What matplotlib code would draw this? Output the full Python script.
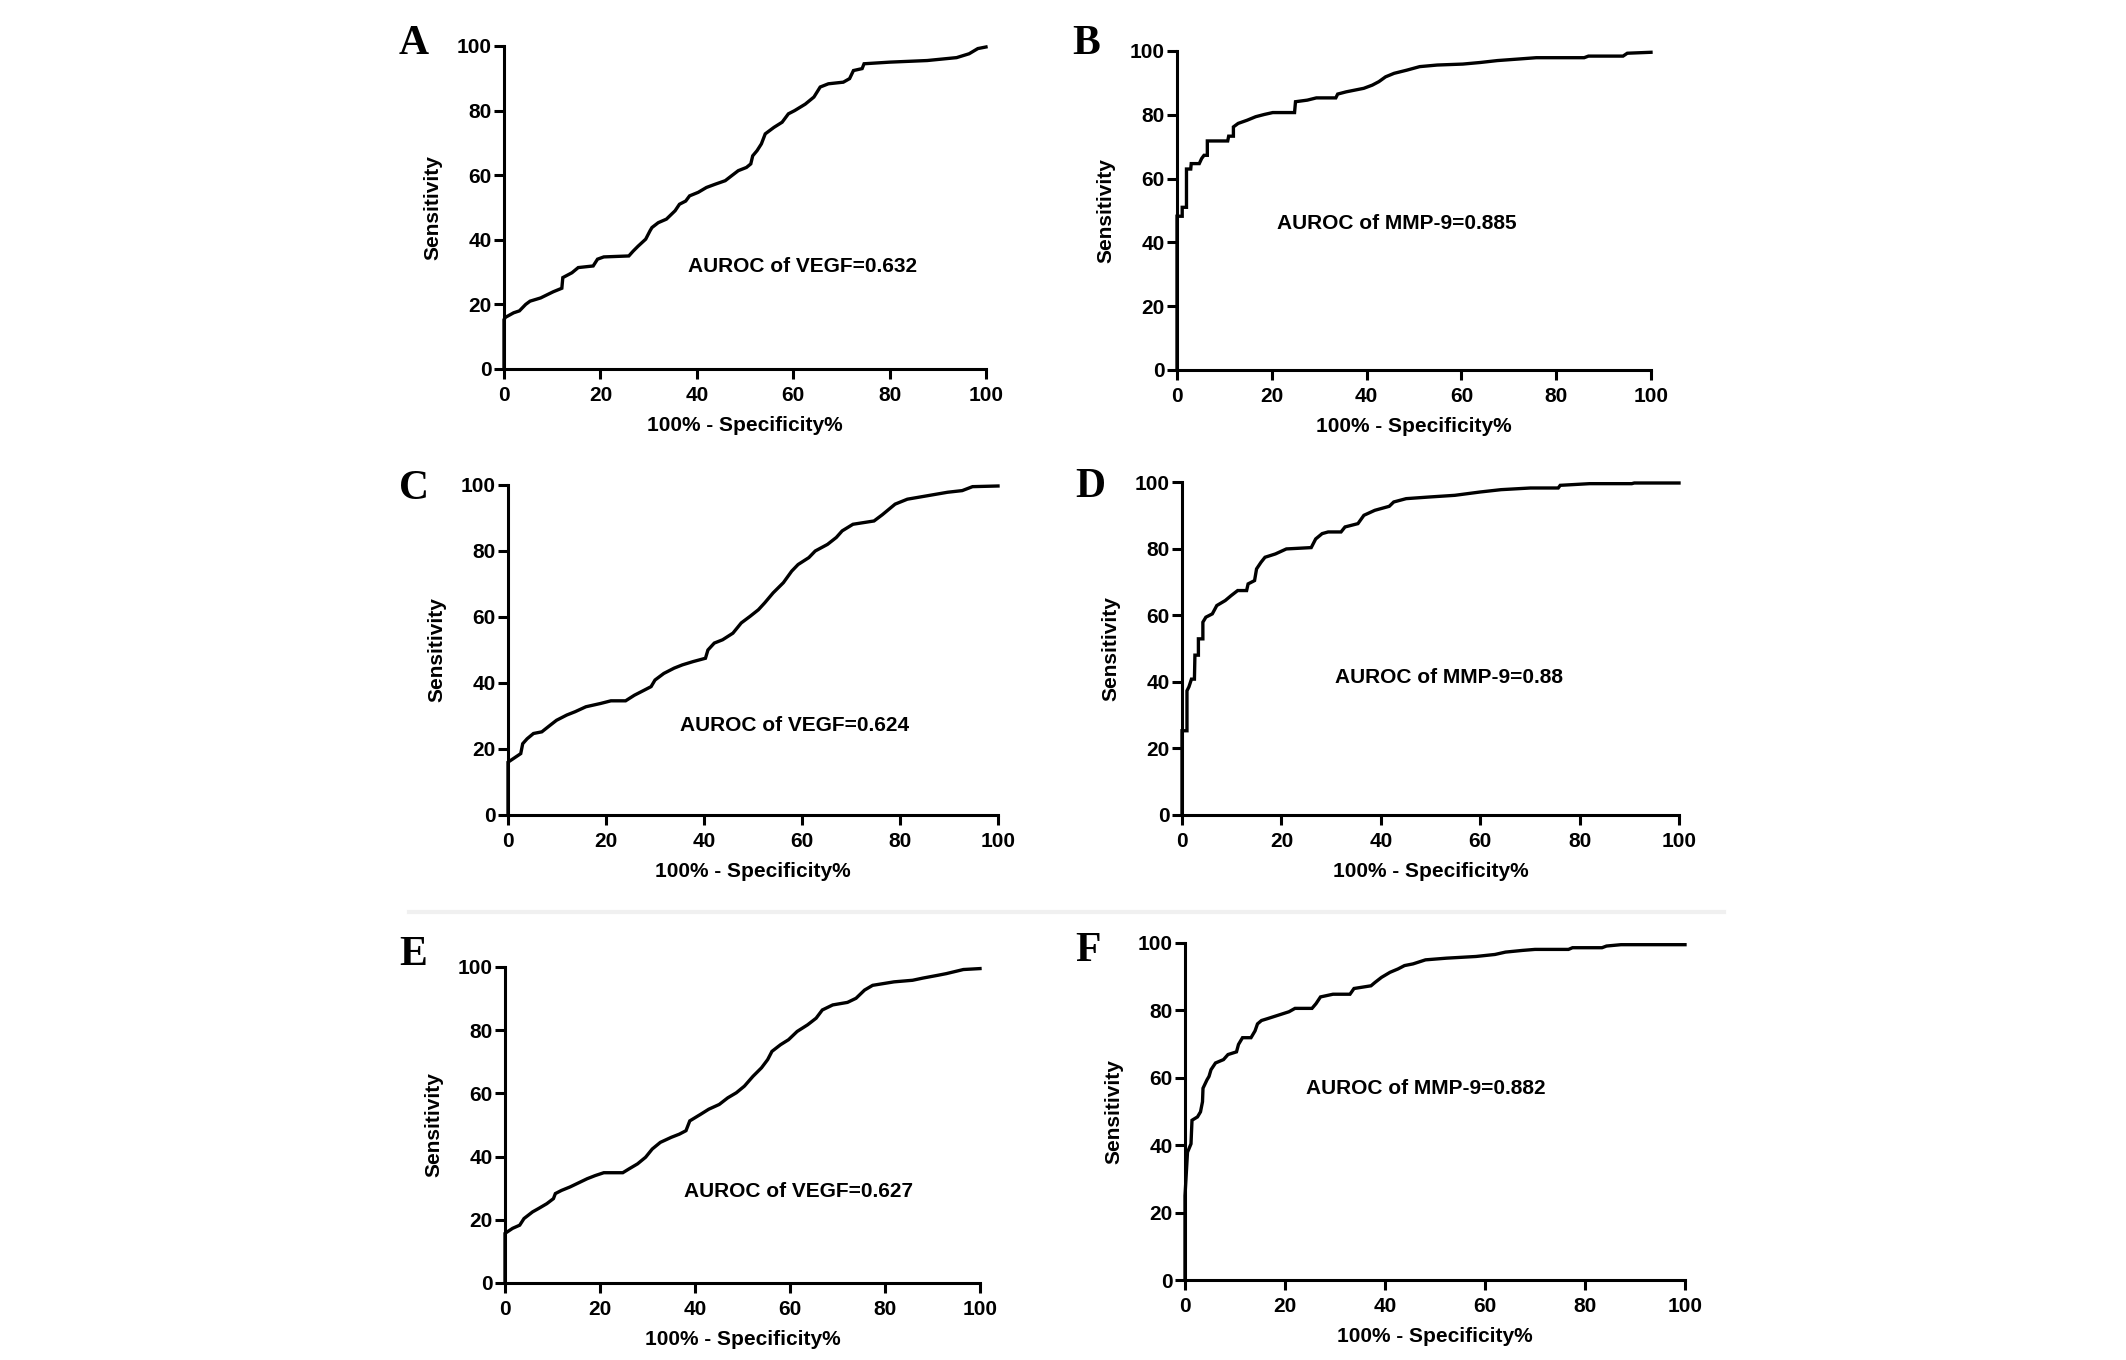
import matplotlib
matplotlib.use("Agg")
import matplotlib.pyplot as plt
from matplotlib.lines import Line2D

W, H = 2126, 1360

# ROC curves: (100% - specificity, sensitivity)
roc_a = [(0, 0), (0, 15.3), (0.3, 16), (2, 17.4), (3.2, 18), (4.5, 20), (5.4, 21), (7.6, 22),
         (10.2, 23.9), (12, 25), (12.2, 28.3), (14.1, 29.8), (15.4, 31.4), (18.5, 31.9), (19.4, 34),
         (20.7, 34.7), (25.9, 35), (26.8, 36.5), (27.8, 38), (29.4, 40.2), (30.3, 42.8), (30.7, 43.8),
         (32, 45.3), (33.7, 46.4), (35.5, 49), (36.4, 51), (37.7, 52), (38.5, 53.6), (40.3, 54.7),
         (42, 56.2), (43.8, 57.2), (45.9, 58.3), (47.2, 59.8), (48.6, 61.4), (50.3, 62.4), (51.2, 63.5),
         (51.6, 66), (52.5, 67.6), (53.4, 69.7), (54.2, 72.8), (56, 74.8), (57.7, 76.4), (59, 79),
         (60.3, 80), (62.5, 82), (64.3, 84.2), (65.6, 87.3), (67.3, 88.3), (70.4, 88.8), (71.7, 89.9),
         (72.5, 92.4), (74.3, 93), (74.7, 94.5), (80, 95), (87.8, 95.5), (93.9, 96.4), (96.5, 97.6),
         (98.3, 99.2), (100, 99.7)]
roc_b = [(0, 0), (0, 48.2), (1.1, 48.2), (1.1, 51), (2, 51), (2, 63), (2.9, 63), (3, 64.7), (4.7, 64.7),
         (5.2, 66.3), (5.7, 67.3), (6.4, 67.3), (6.4, 71.8), (10.7, 71.8), (10.9, 73.3), (11.9, 73.3),
         (11.9, 76.2), (12.9, 77.3), (14.8, 78.3), (16.6, 79.4), (18.4, 80.1), (20.2, 80.7), (24.8, 80.7),
         (25, 84.1), (27.5, 84.6), (29.4, 85.3), (33.5, 85.3), (33.9, 86.5), (35.7, 87.2), (39.4, 88.3),
         (41.2, 89.3), (42.6, 90.4), (44, 91.9), (45.8, 93), (48.5, 94), (51.2, 95.1), (54.9, 95.6),
         (60.3, 95.9), (64, 96.4), (67.6, 97), (72.2, 97.5), (75.8, 97.9), (85.9, 97.9), (86.8, 98.4),
         (94.1, 98.4), (95, 99.3), (100, 99.6)]
roc_c = [(0, 0), (0, 16), (0.9, 16.9), (2.6, 18.6), (3, 21.6), (3.9, 23.1), (5.2, 24.7), (6.9, 25.2),
         (8.6, 27.2), (9.9, 28.7), (12, 30.3), (13.7, 31.3), (15.9, 32.8), (18.9, 33.8), (21, 34.6),
         (24, 34.6), (25.8, 36.3), (27.9, 37.9), (29.2, 38.9), (30, 40.9), (31.8, 42.9), (33.9, 44.5),
         (35.6, 45.5), (37.8, 46.5), (40.3, 47.5), (40.8, 50), (42.1, 52.1), (43.8, 53.1), (45.9, 55.1),
         (47.6, 58.2), (49.4, 60.2), (51.1, 62.2), (52.4, 64.3), (54.1, 67.3), (56.2, 70.4), (57.9, 73.9),
         (59.2, 75.9), (61.4, 78), (62.7, 80), (65.2, 82), (67, 84.1), (68.2, 86.1), (70.4, 88.1),
         (74.7, 89.1), (76.4, 91), (79, 94.2), (81.5, 95.7), (85.8, 96.8), (89.7, 97.8), (92.7, 98.3),
         (94.8, 99.5), (100, 99.7)]
roc_d = [(0, 0), (0, 25.3), (1, 25.3), (1, 37.3), (1.4, 38.5), (1.9, 40.8), (2.5, 40.8), (2.6, 48),
         (3.3, 48), (3.3, 52.9), (4.2, 52.9), (4.2, 57.9), (4.8, 59.4), (6.1, 60.4), (7, 62.9), (8.7, 64.4),
         (9.9, 65.9), (11.2, 67.4), (13, 67.4), (13.3, 69.4), (14.6, 70.4), (15, 73.9), (15.9, 75.9),
         (16.7, 77.4), (18.8, 78.4), (21, 79.9), (26, 80.3), (26.9, 82.9), (28.2, 84.5), (29.4, 85),
         (32, 85), (32.8, 86.5), (35.4, 87.5), (36.6, 90), (38.8, 91.5), (41.7, 92.7), (42.6, 94),
         (45.1, 95), (49.8, 95.5), (54.9, 96), (60, 97), (64.2, 97.7), (70.1, 98.2), (75.7, 98.2),
         (76.1, 99), (82, 99.5), (90.5, 99.5), (91, 99.7), (100, 99.7)]
roc_e = [(0, 0), (0, 15.7), (1.6, 17.3), (3.1, 18.3), (4, 20.4), (5.8, 22.5), (7.1, 23.6), (8.8, 25.1),
         (10.2, 26.7), (10.6, 28.3), (11.9, 29.3), (13.7, 30.4), (15.5, 31.7), (17.3, 33), (19, 34),
         (20.8, 34.9), (24.8, 34.9), (26.1, 36.1), (27.9, 37.7), (29.6, 39.8), (31, 42.4), (32.7, 44.5),
         (35, 46.1), (36.7, 47.1), (38.1, 48.2), (38.9, 51.3), (41.2, 53.4), (42.9, 55), (45.1, 56.5),
         (46.9, 58.6), (48.7, 60.2), (50.4, 62.3), (52.2, 65.4), (54, 68.1), (55.3, 70.7), (56.2, 73.3),
         (58, 75.4), (59.7, 77), (61.5, 79.6), (63.7, 81.7), (65.5, 83.8), (66.8, 86.4), (69, 88),
         (72.1, 88.8), (73.9, 90.1), (75.7, 92.7), (77.4, 94.2), (81.9, 95.3), (85.8, 95.8), (88, 96.5),
         (91.2, 97.4), (92.9, 97.9), (96.5, 99.2), (100, 99.5)]
roc_f = [(0, 0), (0, 25), (0.5, 37.9), (1.2, 40.4), (1.4, 47.4), (2.5, 48.4), (3.1, 49.9), (3.5, 52.9),
         (3.6, 56.9), (4.4, 59.4), (4.8, 60.4), (5.2, 62.4), (6.1, 64.4), (7.7, 65.4), (8.6, 66.9),
         (10.3, 67.7), (10.7, 69.9), (11.5, 71.9), (13.2, 71.9), (14, 73.9), (14.5, 76), (15.3, 77),
         (16.6, 77.6), (18.7, 78.6), (20.8, 79.6), (22, 80.6), (25.4, 80.6), (26.2, 82), (27.1, 84),
         (29.6, 84.8), (33, 84.8), (33.8, 86.5), (37.2, 87.3), (38, 88.3), (39.3, 89.8), (41, 91.3),
         (42.6, 92.3), (43.9, 93.3), (45.6, 93.8), (48.1, 95), (52.3, 95.5), (58.2, 96), (62, 96.6),
         (64.1, 97.3), (67.5, 97.8), (70, 98.1), (76.7, 98.1), (77.5, 98.6), (83.4, 98.6), (84.3, 99.1),
         (87.2, 99.5), (100, 99.5)]

panel_letters = ["A", "B", "C", "D", "E", "F"]
auroc_texts = ["AUROC of VEGF=0.632", "AUROC of MMP-9=0.885",
               "AUROC of VEGF=0.624", "AUROC of MMP-9=0.88",
               "AUROC of VEGF=0.627", "AUROC of MMP-9=0.882"]
ticks = [0, 20, 40, 60, 80, 100]
xlabel = "100% - Specificity%"
ylabel = "Sensitivity"

curves = [roc_a, roc_b, roc_c, roc_d, roc_e, roc_f]

# layout in pixels: x at 0, x at 100, y at 100, y at 0
boxes = [(504, 986, 46, 369), (1177, 1651, 51, 370),
         (508, 998, 485, 815), (1182, 1679, 482, 815),
         (505, 980, 967, 1283), (1185, 1685, 943, 1280)]
letter_pos = [(414, 44), (1086, 44), (414, 489), (1090, 487), (413, 955), (1088, 951)]
text_pos = [(38.1, 31.6), (21.1, 45.9), (35.2, 27.2), (30.7, 41.3), (37.6, 28.8), (24.3, 56.9)]

plt.rcParams['font.family'] = ['Liberation Sans', 'DejaVu Sans']
plt.rcParams['font.weight'] = 'bold'

fig = plt.figure(figsize=(W / 100, H / 100), dpi=100)
fig.patch.set_facecolor("white")

# faint separator line left over from the original composite
fig.add_artist(Line2D([409 / W, 1724 / W], [1 - 912 / H, 1 - 912 / H],
                      color="#f0f0f0", lw=3))

for i, pts in enumerate(curves):
    x0, x1, y1, y0 = boxes[i]
    ax = fig.add_axes([x0 / W, 1 - y0 / H, (x1 - x0) / W, (y0 - y1) / H])
    xs = [p[0] for p in pts]
    ys = [p[1] for p in pts]
    ax.plot(xs, ys, color="black", lw=2.4, clip_on=False, solid_joinstyle="miter")
    ax.set_xlim(0, 100)
    ax.set_ylim(0, 100)
    ax.set_xticks(ticks)
    ax.set_yticks(ticks)
    for s in ["top", "right"]:
        ax.spines[s].set_visible(False)
    for s in ["left", "bottom"]:
        ax.spines[s].set_linewidth(2.2)
    ax.tick_params(direction="out", length=7, width=2.2, labelsize=15)
    ax.tick_params(axis="y", pad=2)
    ax.tick_params(axis="x", pad=5)
    for lab in ax.get_xticklabels() + ax.get_yticklabels():
        lab.set_fontweight("bold")
    ax.set_xlabel(xlabel, fontsize=15, fontweight="bold", labelpad=8)
    ax.set_ylabel(ylabel, fontsize=15, fontweight="bold", labelpad=10)
    ax.text(text_pos[i][0], text_pos[i][1], auroc_texts[i], fontsize=15,
            fontweight="bold", ha="left", va="center")
    lx, ly = letter_pos[i]
    fig.text(lx / W, 1 - ly / H, panel_letters[i], fontsize=30, fontweight="bold",
             family=["Liberation Serif", "DejaVu Serif"], ha="center", va="center")

fig.savefig("out.png", dpi=100, facecolor="white")
